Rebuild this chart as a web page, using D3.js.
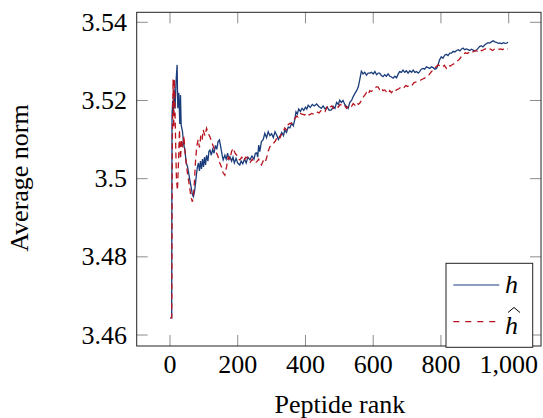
<!DOCTYPE html>
<html><head><meta charset="utf-8"><script src="https://d3js.org/d3.v7.min.js"></script></head>
<body style="margin:0">
<svg id="chart" width="543" height="418"></svg>
<script>
// x ticks / y ticks
let xTicks = [0, 200, 400, 600, 800, 1000]
let yTicks = [3.46, 3.48, 3.5, 3.52, 3.54]

// h (solid blue): [peptide rank, average norm]
let hSeries = [
  [1,3.4644],[5,3.4644],[6,3.5163],[8,3.5200],[10,3.5163],[12,3.5230],[15,3.5180],[18,3.5250],[21,3.5291],
  [23,3.5180],[26,3.5220],[29,3.5140],[31,3.5214],[33,3.5137],[37,3.5120],[40,3.5090],[44,3.5073],[48,3.5040],
  [52,3.5030],[56,3.5010],[60,3.4990],[63,3.4975],[66,3.4960],[69,3.4954],[72,3.4965],[75,3.4985],[78,3.5010],
  [81,3.5030],[84,3.5040],[87,3.5020],[90,3.5045],[93,3.5025],[96,3.5050],[99,3.5030],[102,3.5055],[105,3.5035],
  [108,3.5060],[112,3.5045],[115,3.5070],[118,3.5073],[122,3.5060],[126,3.5075],[130,3.5065],[134,3.5085],
  [138,3.5075],[142,3.5095],[146,3.5099],[150,3.5080],[154,3.5060],[157,3.5048],[162,3.5060],[166,3.5050],
  [170,3.5065],[174,3.5050],[177,3.5056],[182,3.5045],[186,3.5055],[190,3.5040],[195,3.5052],[200,3.5040],
  [206,3.5035],[210,3.5045],[215,3.5038],[220,3.5050],[225,3.5040],[230,3.5055],[236,3.5048],[242,3.5058],
  [248,3.5050],[252,3.5065],[256,3.5066],[259,3.5055],[262,3.5086],[265,3.5069],[270,3.5095],[275,3.5100],
  [280,3.5116],[285,3.5105],[290,3.5120],[295,3.5110],[300,3.5115],[305,3.5105],[310,3.5120],[316,3.5110],
  [320,3.5100],[324,3.5107],[330,3.5118],[335,3.5110],[339,3.5125],[344,3.5118],[349,3.5132],[354,3.5130],
  [359,3.5142],[364,3.5135],[368,3.5150],[372,3.5171],[376,3.5165],[380,3.5178],[385,3.5172],[390,3.5180],
  [395,3.5175],[400,3.5183],[404,3.5178],[408,3.5188],[414,3.5182],[420,3.5190],[426,3.5186],[433,3.5191],
  [440,3.5184],[447,3.5180],[452,3.5186],[458,3.5178],[464,3.5183],[470,3.5175],[477,3.5176],[482,3.5185],
  [487,3.5180],[492,3.5195],[497,3.5190],[501,3.5201],[506,3.5195],[511,3.5200],[516,3.5190],[521,3.5185],
  [526,3.5180],[531,3.5195],[536,3.5200],[541,3.5210],[546,3.5218],[551,3.5225],[556,3.5235],[560,3.5252],
  [565,3.5275],[570,3.5268],[575,3.5272],[580,3.5265],[585,3.5270],[590,3.5270],[595,3.5272],[600,3.5268],
  [605,3.5274],[610,3.5266],[615,3.5270],[619,3.5270],[624,3.5264],[629,3.5261],[634,3.5266],[639,3.5262],
  [644,3.5268],[649,3.5262],[654,3.5260],[659,3.5257],[664,3.5262],[669,3.5258],[674,3.5268],[678,3.5274],
  [683,3.5272],[688,3.5278],[693,3.5272],[698,3.5276],[703,3.5270],[708,3.5276],[713,3.5272],[718,3.5278],
  [723,3.5272],[728,3.5274],[733,3.5270],[737,3.5274],[742,3.5280],[747,3.5282],[752,3.5280],[757,3.5286],
  [762,3.5284],[767,3.5282],[772,3.5286],[777,3.5284],[782,3.5280],[787,3.5282],[791,3.5290],[796,3.5304],
  [801,3.5312],[806,3.5308],[811,3.5316],[816,3.5318],[821,3.5315],[826,3.5321],[831,3.5321],[836,3.5326],
  [841,3.5324],[846,3.5328],[851,3.5330],[856,3.5327],[861,3.5332],[865,3.5334],[870,3.5330],[875,3.5332],
  [880,3.5330],[885,3.5328],[890,3.5331],[895,3.5329],[900,3.5326],[905,3.5329],[910,3.5334],[914,3.5338],
  [919,3.5340],[924,3.5337],[929,3.5342],[934,3.5345],[939,3.5348],[944,3.5347],[949,3.5350],[954,3.5353],
  [959,3.5350],[964,3.5349],[969,3.5346],[974,3.5347],[979,3.5345],[984,3.5348],[989,3.5346],[994,3.5347],
  [998,3.5349]
]

// h-hat (dashed red)
let hHatSeries = [
  [1,3.4644],[5,3.4644],[7,3.5100],[9,3.5254],[11,3.5130],[13,3.5254],[16,3.5120],[19,3.5000],[22,3.4970],
  [25,3.5040],[28,3.5125],[31,3.5050],[34,3.5100],[38,3.5080],[41,3.5110],[44,3.5073],[48,3.5040],[52,3.5010],
  [56,3.4990],[60,3.4965],[63,3.4950],[66,3.4941],[69,3.4955],[72,3.4990],[75,3.5040],[79,3.5082],[83,3.5100],
  [87,3.5080],[91,3.5110],[95,3.5100],[98,3.5125],[103,3.5110],[108,3.5129],[113,3.5115],[118,3.5107],
  [123,3.5095],[128,3.5082],[133,3.5070],[138,3.5065],[142,3.5056],[147,3.5040],[152,3.5030],[157,3.5015],
  [162,3.5009],[167,3.5030],[172,3.5056],[177,3.5050],[182,3.5070],[187,3.5078],[192,3.5065],[197,3.5060],
  [202,3.5050],[206,3.5048],[212,3.5055],[218,3.5045],[224,3.5055],[231,3.5052],[237,3.5042],[243,3.5050],
  [250,3.5040],[256,3.5043],[262,3.5050],[266,3.5040],[270,3.5035],[275,3.5045],[280,3.5040],[285,3.5052],
  [290,3.5070],[295,3.5082],[300,3.5085],[305,3.5090],[310,3.5095],[315,3.5103],[320,3.5110],[325,3.5105],
  [330,3.5115],[334,3.5120],[339,3.5130],[344,3.5125],[349,3.5138],[354,3.5142],[359,3.5140],[364,3.5150],
  [369,3.5154],[374,3.5160],[378,3.5158],[383,3.5167],[390,3.5165],[398,3.5163],[405,3.5168],[411,3.5163],
  [418,3.5167],[425,3.5165],[433,3.5171],[440,3.5168],[446,3.5174],[452,3.5176],[458,3.5172],[463,3.5182],
  [467,3.5188],[472,3.5183],[478,3.5186],[482,3.5180],[487,3.5180],[492,3.5185],[497,3.5183],[502,3.5190],
  [506,3.5188],[511,3.5183],[516,3.5186],[521,3.5180],[526,3.5184],[531,3.5188],[536,3.5185],[541,3.5192],
  [546,3.5188],[551,3.5195],[556,3.5190],[560,3.5193],[565,3.5200],[570,3.5208],[575,3.5214],[580,3.5220],
  [585,3.5215],[590,3.5225],[595,3.5223],[600,3.5228],[605,3.5232],[610,3.5235],[614,3.5235],[619,3.5228],
  [624,3.5232],[629,3.5225],[634,3.5227],[639,3.5222],[644,3.5218],[649,3.5225],[654,3.5220],[659,3.5226],
  [664,3.5223],[670,3.5228],[676,3.5230],[683,3.5235],[690,3.5232],[696,3.5238],[702,3.5236],[708,3.5240],
  [714,3.5238],[720,3.5245],[728,3.5248],[734,3.5250],[740,3.5252],[746,3.5255],[752,3.5257],[758,3.5263],
  [764,3.5265],[772,3.5274],[778,3.5278],[784,3.5285],[792,3.5291],[798,3.5288],[804,3.5285],[810,3.5290],
  [816,3.5282],[822,3.5290],[828,3.5288],[834,3.5292],[841,3.5295],[847,3.5300],[854,3.5305],[860,3.5312],
  [866,3.5318],[872,3.5322],[878,3.5320],[885,3.5325],[891,3.5322],[897,3.5326],[903,3.5328],[909,3.5325],
  [915,3.5330],[921,3.5327],[928,3.5331],[934,3.5333],[940,3.5330],[946,3.5332],[952,3.5328],[958,3.5331],
  [964,3.5329],[970,3.5331],[976,3.5332],[982,3.5330],[988,3.5334],[993,3.5333],[998,3.5332]
]

let blue = "#1b3d7c"
let red = "#b8141f"

let svg = d3.select("#chart")
let plotL = 136.7, plotR = 541, plotT = 12.3, plotB = 346

let x = d3.scaleLinear().domain([-98.3, 1095.4]).range([plotL, plotR])
let y = d3.scaleLinear().domain([3.45719, 3.54256]).range([plotB, plotT])

// labels first, the way the font test drew them
function label(px, py, str) {
  return svg.append("text").attr("x", px).attr("y", py)
    .attr("font-family", "Liberation Serif").attr("font-size", 26)
    .text(str)
}

let fmt = d3.format(",")
xTicks.forEach(t => label(x(t), 373, fmt(t)).attr("text-anchor", "middle"))
yTicks.forEach(t => label(127, y(t) + 8.5, String(t)).attr("text-anchor", "end"))

label((plotL + plotR) / 2 + 1, 412.5, "Peptide rank").attr("text-anchor", "middle")
label(0, 0, "Average norm").attr("text-anchor", "middle")
  .attr("transform", "translate(28,178) rotate(-90)")

// ticks on all four sides, pointing inward
let tickLen = 11
let ticks = svg.append("g").attr("stroke", "#8c8c8c").attr("stroke-width", 1)
xTicks.forEach(t => {
  ticks.append("line").attr("x1", x(t)).attr("x2", x(t)).attr("y1", plotB).attr("y2", plotB - tickLen)
  ticks.append("line").attr("x1", x(t)).attr("x2", x(t)).attr("y1", plotT).attr("y2", plotT + tickLen)
})
yTicks.forEach(t => {
  ticks.append("line").attr("x1", plotL).attr("x2", plotL + tickLen).attr("y1", y(t)).attr("y2", y(t))
  ticks.append("line").attr("x1", plotR).attr("x2", plotR - tickLen).attr("y1", y(t)).attr("y2", y(t))
})

let line = d3.line().x(d => x(d[0])).y(d => y(d[1]))

svg.append("path").datum(hSeries).attr("d", line)
  .attr("fill", "none").attr("stroke", blue).attr("stroke-width", 1.3)
svg.append("path").datum(hHatSeries).attr("d", line)
  .attr("fill", "none").attr("stroke", red).attr("stroke-width", 1.3)
  .attr("stroke-dasharray", "6,4")

// axis box
svg.append("rect").attr("x", plotL).attr("y", plotT).attr("width", plotR - plotL).attr("height", plotB - plotT)
  .attr("fill", "none").attr("stroke", "#222").attr("stroke-width", 1)

// legend
svg.append("rect").attr("x", 446).attr("y", 263.3).attr("width", 86.7).attr("height", 84)
  .attr("fill", "#fff").attr("stroke", "#222").attr("stroke-width", 1)
svg.append("line").attr("x1", 453.3).attr("x2", 499.3).attr("y1", 285).attr("y2", 285)
  .attr("stroke", blue).attr("stroke-width", 1.2)
svg.append("line").attr("x1", 453.3).attr("x2", 499.3).attr("y1", 321.7).attr("y2", 321.7)
  .attr("stroke", red).attr("stroke-width", 1.2).attr("stroke-dasharray", "6,6")
label(505, 293.3, "h").attr("font-style", "italic")
label(505, 334, "h").attr("font-style", "italic")
svg.append("path").attr("d", "M508,312.5 L514,307.5 L520,312.5")
  .attr("fill", "none").attr("stroke", "#000").attr("stroke-width", 1)
</script>
</body>
</html>
